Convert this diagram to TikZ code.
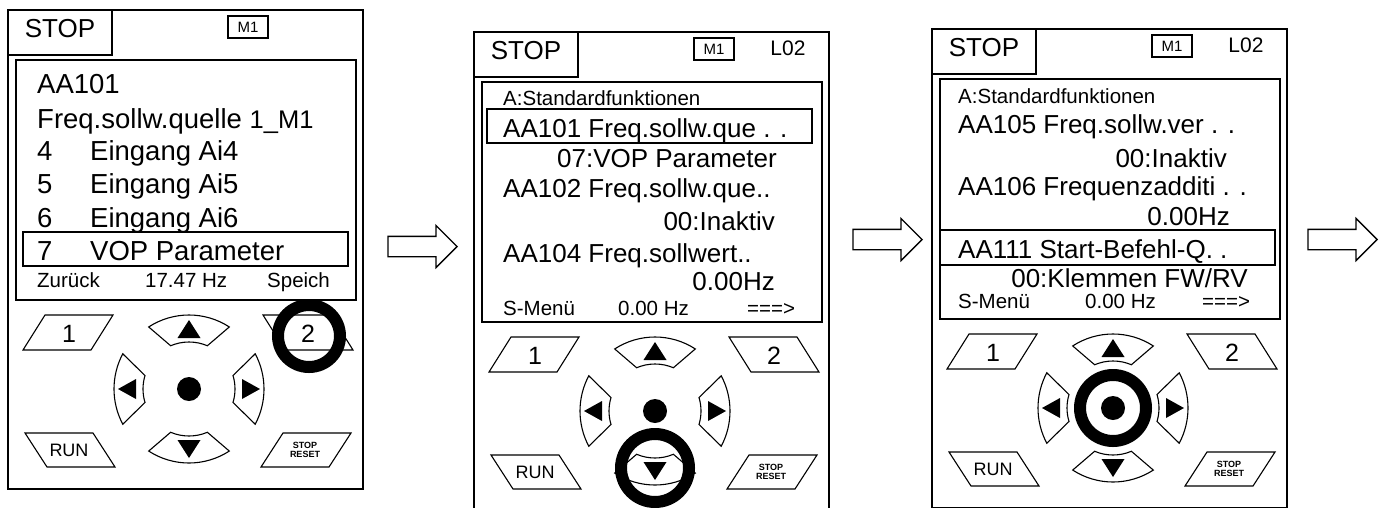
\documentclass[tikz,border=0pt]{standalone}
\usepackage{fontspec}
\setmainfont{Liberation Sans}
\usetikzlibrary{shapes.arrows}

\newcommand\sz[1]{\fontsize{#1}{#1}\selectfont}

\begin{document}
\begin{tikzpicture}[x=1pt,y=-1pt,
    frame/.style={draw,line width=1.3pt},
    key/.style={draw,line width=1.1pt,line join=miter},
    lbl/.style={anchor=base west,inner sep=0pt},
    rlbl/.style={anchor=base east,inner sep=0pt},
    big/.style={font=\sz{26}},
    huge/.style={font=\sz{27.5}},
    small/.style={font=\sz{20.5}},
    press/.style={draw,line width=12pt},
    hollow/.style={draw,line width=1.3pt,single arrow,single arrow head extend=11pt,
        single arrow head indent=0pt,minimum height=69pt,inner xsep=0pt,inner ysep=9.5pt}]
    \useasboundingbox (0,0) rectangle (1381,507);

    % Frame, status bar and keypad (same on all three panels)
    \foreach \i/\px/\py in {1/8/10,2/474/32,3/932/29}{
    \begin{scope}[shift={(\px,\py)}]
        \draw[frame] (0,0) rectangle (355,479);
        \draw[frame] (0,0) rectangle (104,45);
        \node[anchor=base,inner sep=0pt,big] (p\i-stop) at (52,27) {STOP};
        \node[draw,line width=1.1pt,minimum width=40pt,minimum height=22pt,inner sep=0pt,font=\sz{15}] (p\i-mode) at (240,17) {M1};
        \draw[frame] (8,50) rectangle (348,290);
        % function keys
        \draw[key] (15,340) -- (37,305) -- (105,305) -- (83,340) -- cycle;
        \node[font=\sz{25}] (p\i-k1) at (61,324) {1};
        \draw[key] (255,305) -- (323,305) -- (345,340) -- (277,340) -- cycle;
        \node[font=\sz{25}] (p\i-k2) at (300,324) {2};
        \draw[key] (17,423) -- (85,423) -- (107,457) -- (39,457) -- cycle;
        \node[font=\sz{18}] (p\i-run) at (61,440) {RUN};
        \draw[key] (275,423) -- (343,423) -- (321,457) -- (253,457) -- cycle;
        \node[font=\bfseries\sz{9},align=center,inner sep=0pt] (p\i-reset) at (297,440) {STOP\\RESET};
        % cursor keys round the centre key
        \begin{scope}[shift={(181,379)}]
            \draw[key] (237:74) arc[start angle=237,end angle=303,radius=74] -- (293:47) arc[start angle=293,end angle=247,radius=47] -- cycle;
            \draw[key] (57:74) arc[start angle=57,end angle=123,radius=74] -- (113:47) arc[start angle=113,end angle=67,radius=47] -- cycle;
            \draw[key] (152:75) arc[start angle=152,end angle=208,radius=75] -- (197:46) arc[start angle=197,end angle=163,radius=46] -- cycle;
            \draw[key] (-28:75) arc[start angle=-28,end angle=28,radius=75] -- (17:46) arc[start angle=17,end angle=-17,radius=46] -- cycle;
            \fill (0,-69) -- (11.5,-51) -- (-11.5,-51) -- cycle;
            \fill (0,69) -- (11.5,51) -- (-11.5,51) -- cycle;
            \fill (-71,0) -- (-53,-10) -- (-53,10) -- cycle;
            \fill (71,0) -- (53,-10) -- (53,10) -- cycle;
            \fill (0,0) circle (12);
        \end{scope}
    \end{scope}
    }

    % Panel 1: parameter list
    \begin{scope}[shift={(8,10)}]
        \node[lbl,huge] (p1-code) at (29,83) {AA101};
        \node[lbl,huge] (p1-name) at (29,118) {Freq.sollw.quelle {\sz{25.5}1\_M1}};
        \node[lbl,huge] (p1-n4) at (29,150) {4};
        \node[lbl,huge] (p1-t4) at (82,150) {Eingang Ai4};
        \node[lbl,huge] (p1-n5) at (29,183) {5};
        \node[lbl,huge] (p1-t5) at (82,183) {Eingang Ai5};
        \node[lbl,huge] (p1-n6) at (29,217) {6};
        \node[lbl,huge] (p1-t6) at (82,217) {Eingang Ai6};
        \draw[frame] (15,222) rectangle (340,256);
        \node[lbl,huge] (p1-n7) at (29,250) {7};
        \node[lbl,huge] (p1-t7) at (82,250) {VOP Parameter};
        \node[lbl,small] (p1-back) at (29,277) {Zurück};
        \node[lbl,small] (p1-freq) at (137,277) {17.47 Hz};
        \node[lbl,small] (p1-save) at (259,277) {Speich};
    \end{scope}

    % Panel 2: group A, AA101 selected
    \begin{scope}[shift={(474,32)}]
        \node[anchor=base,inner sep=0pt,font=\sz{21}] (p2-lvl) at (314,23) {L02};
        \node[lbl,small] (p2-head) at (29,73) {A:Standardfunktionen};
        \draw[frame] (13,77) rectangle (338,111);
        \node[lbl,big] (p2-r1) at (29,105) {AA101 Freq.sollw.que . .};
        \node[rlbl,big] (p2-v1) at (303,135) {07:VOP Parameter};
        \node[lbl,big] (p2-r2) at (29,165) {AA102 Freq.sollw.que..};
        \node[rlbl,big] (p2-v2) at (301,198) {00:Inaktiv};
        \node[lbl,big] (p2-r3) at (29,230) {AA104 Freq.sollwert..};
        \node[rlbl,big] (p2-v3) at (301,258) {0.00Hz};
        \node[lbl,small] (p2-menu) at (29,283) {S-Menü};
        \node[lbl,small] (p2-freq) at (144,283) {0.00 Hz};
        \node[lbl,small] (p2-next) at (273,283) {===>};
    \end{scope}

    % Panel 3: scrolled to AA111
    \begin{scope}[shift={(932,29)}]
        \node[anchor=base,inner sep=0pt,font=\sz{21}] (p3-lvl) at (314,23) {L02};
        \node[lbl,small] (p3-head) at (26,74) {A:Standardfunktionen};
        \node[lbl,big] (p3-r1) at (26,104) {AA105 Freq.sollw.ver . .};
        \node[rlbl,big] (p3-v1) at (295,138) {00:Inaktiv};
        \node[lbl,big] (p3-r2) at (26,166) {AA106 Frequenzadditi . .};
        \node[rlbl,big] (p3-v2) at (298,196) {0.00Hz};
        \draw[frame] (8,201) rectangle (343,236);
        \node[lbl,big] (p3-r3) at (26,229) {AA111 Start-Befehl-Q. .};
        \node[rlbl,big] (p3-v3) at (316,258) {00:Klemmen FW/RV};
        \node[lbl,small] (p3-menu) at (26,279) {S-Menü};
        \node[lbl,small] (p3-freq) at (153,279) {0.00 Hz};
        \node[lbl,small] (p3-next) at (270,279) {===>};
    \end{scope}

    % Keys pressed
    \draw[press] (309,336) circle (31);
    \draw[press] (655,468) circle (34);
    \draw[press] (1113,408) circle (33);

    % Step arrows
    \node[hollow] (a1) at (417.5,246.5) {};
    \node[hollow] (a2) at (882.5,239.5) {};
    \node[hollow] (a3) at (1337.5,239.5) {};
\end{tikzpicture}
\end{document}
